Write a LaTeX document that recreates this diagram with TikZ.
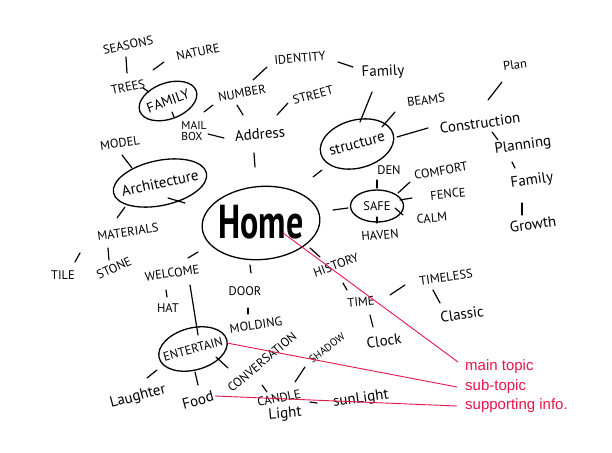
\documentclass[tikz,border=0pt]{standalone}
\usepackage{fontspec}
\usepackage{graphicx}
\usetikzlibrary{shapes.geometric,calc}
\newfontfamily\handfont{PT Sans}
\newfontfamily\labelfont{Liberation Sans}
\definecolor{labred}{RGB}{232,22,74}
\tikzset{
 word/.style={font=\handfont\fontsize{12.5}{13}\selectfont, inner sep=1pt},
 lword/.style={font=\handfont\fontsize{15}{15}\selectfont, inner sep=1pt},
 bubble/.style={draw, ellipse, line width=1.3pt, inner sep=0pt},
 conn/.style={draw, line width=1.2pt, line cap=round},
 redconn/.style={draw=labred, line width=0.9pt},
 redlabel/.style={font=\labelfont\fontsize{15}{16}\selectfont, text=labred, anchor=west, inner sep=0pt},
}
\newcommand{\mmlink}[4]{\draw[conn] ($(#1)+(#2)$) -- ($(#3)+(#4)$);}
\begin{document}
\begin{tikzpicture}[x=1pt,y=-1pt]
\useasboundingbox (0,0) rectangle (612,452);
\fill[white] (0,0) rectangle (612,452);

% ellipses
\node[bubble, minimum width=60, minimum height=36, rotate=20] (family1) at (168,101) {};
\node[bubble, minimum width=75, minimum height=48, rotate=15] (structure) at (357,144) {};
\node[bubble, minimum width=53, minimum height=32] (safe) at (377,206) {};
\node[bubble, minimum width=118, minimum height=73, rotate=5] (home) at (261,223) {};
\node[bubble, minimum width=70, minimum height=42, rotate=15] (entertain) at (193,349) {};
\node[bubble, minimum width=95, minimum height=45, rotate=12] (arch) at (160,183) {};

% ellipse texts
\node[word, rotate=20, font=\handfont\fontsize{14}{14}\selectfont] (family1t) at (168,101) {FAMILY};
\node[lword, rotate=15] (structuret) at (357,144) {structure};
\node[word] (safet) at (377,206) {SAFE};
\node[inner sep=0pt, font=\handfont\bfseries\fontsize{34}{34}\selectfont] (homet) at (261,222) {\scalebox{1.0}[1.4]{Home}};
\node[word, rotate=15] (entertaint) at (193,349) {ENTERTAIN};
\node[lword, rotate=12] (archt) at (160,183) {Architecture};

% words
\node[word, rotate=12] (seasons) at (128,45) {SEASONS};
\node[word, rotate=12] (nature) at (198,52) {NATURE};
\node[word, rotate=12] (trees) at (128,87) {TREES};
\node[word, align=left, font=\handfont\fontsize{11.5}{11.5}\selectfont] (mailbox) at (194,131) {MAIL\\BOX};
\node[word, rotate=10] (number) at (242,93) {NUMBER};
\node[word, rotate=5] (identity) at (300,58) {IDENTITY};
\node[lword, rotate=3] (family2) at (383,72) {Family};
\node[word, rotate=15] (street) at (313,95) {STREET};
\node[lword, rotate=5] (address) at (260,134) {Address};
\node[word, rotate=8] (beams) at (426,100) {BEAMS};
\node[lword, rotate=8] (construction) at (480,123) {Construction};
\node[word, rotate=8] (plan) at (515,65) {Plan};
\node[lword, rotate=8] (planning) at (523,146) {Planning};
\node[lword, rotate=8] (family3) at (532,181) {Family};
\node[lword, rotate=8] (growth) at (533,224) {Growth};
\node[word] (den) at (389,170) {DEN};
\node[word, rotate=10] (comfort) at (441,171) {COMFORT};
\node[word, rotate=6] (fence) at (448,194) {FENCE};
\node[word, rotate=5] (calm) at (432,218) {CALM};
\node[word, rotate=5] (haven) at (380,235) {HAVEN};
\node[word, rotate=20] (history) at (336,265) {HISTORY};
\node[word, rotate=5] (time) at (361,302) {TIME};
\node[word, rotate=8] (timeless) at (446,277) {TIMELESS};
\node[lword, rotate=8] (classic) at (462,314) {Classic};
\node[lword, rotate=8] (clock) at (384,341) {Clock};
\node[word] (door) at (245,291) {DOOR};
\node[word, rotate=8] (molding) at (256,325) {MOLDING};
\node[word, rotate=8] (welcome) at (172,273) {WELCOME};
\node[word] (hat) at (168,308) {HAT};
\node[lword, rotate=15] (laughter) at (138,397) {Laughter};
\node[lword, rotate=15] (food) at (198,400) {Food};
\node[word, rotate=40] (conversation) at (262,362) {CONVERSATION};
\node[word, rotate=37, font=\handfont\fontsize{10.5}{11}\selectfont] (shadow) at (327,348) {SHADOW};
\node[word, rotate=12] (candle) at (279,398) {CANDLE};
\node[lword, rotate=5] (light) at (285,414) {Light};
\node[lword, rotate=8] (sunlight) at (361,399) {sunLight};
\node[word, rotate=8] (model) at (120,143) {MODEL};
\node[word, rotate=8] (materials) at (128,232) {MATERIALS};
\node[word] (tile) at (63,275) {TILE};
\node[word, rotate=25] (stone) at (114,268) {STONE};

% connectors
\mmlink{seasons}{-2,12}{trees}{-1,-14}
\mmlink{trees}{25,-17}{nature}{-34,10}
\mmlink{trees}{15,1}{family1}{-19,-9}
\mmlink{family1}{4,11}{mailbox}{-20,-14}
\mmlink{number}{-29,12}{mailbox}{10,-19}
\mmlink{mailbox}{14,3}{address}{-36,4}
\mmlink{number}{-5,12}{address}{-17,-19}
\mmlink{number}{11,-13}{identity}{-33,9}
\mmlink{identity}{38,4}{family2}{-30,-5}
\mmlink{street}{-25,8}{address}{17,-19}
\mmlink{address}{-6,19}{home}{-6,-56}
\mmlink{family2}{-11,20}{structure}{3,-22}
\mmlink{beams}{-31,12}{structure}{25,-17}
\mmlink{structure}{40,-7}{construction}{-52,5}
\mmlink{plan}{-13,17}{construction}{8,-23}
\mmlink{construction}{12,9}{planning}{-25,-6}
\mmlink{planning}{-11,16}{family3}{-17,-13}
\mmlink{family3}{-10,22}{growth}{-11,-9}
\mmlink{safe}{0,-18}{den}{-12,10}
\mmlink{safe}{21,-13}{comfort}{-31,11}
\mmlink{safe}{23,-6}{fence}{-36,4}
\mmlink{safe}{18,2}{calm}{-29,-3}
\mmlink{safe}{0,11}{haven}{-3,-12}
\mmlink{home}{72,-13}{safe}{-29,2}
\mmlink{home}{52,-46}{structure}{-35,26}
\mmlink{home}{49,25}{history}{-16,-8}
\mmlink{history}{7,18}{time}{-14,-12}
\mmlink{time}{29,-7}{timeless}{-41,8}
\mmlink{timeless}{-13,13}{classic}{-22,-11}
\mmlink{time}{9,13}{clock}{-11,-14}
\mmlink{home}{-11,42}{door}{6,-18}
\mmlink{door}{3,17}{molding}{-8,-11}
\mmlink{home}{-63,29}{welcome}{16,-15}
\mmlink{welcome}{-6,17}{hat}{-1,-11}
\mmlink{welcome}{18,12}{entertain}{5,-14}
\mmlink{entertain}{-36,21}{laughter}{9,-19}
\mmlink{entertain}{2,23}{food}{0,-15}
\mmlink{entertain}{23,8}{conversation}{-34,6}
\mmlink{shadow}{-22,19}{candle}{16,-16}
\mmlink{conversation}{0,23}{candle}{-12,-6}
\mmlink{candle}{31,4}{sunlight}{-44,4}
\mmlink{model}{2,12}{arch}{-28,-15}
\mmlink{arch}{8,15}{home}{-76,-20}
\mmlink{arch}{-35,24}{materials}{-11,-14}
\mmlink{materials}{-48,21}{tile}{12,-13}
\mmlink{materials}{-20,16}{stone}{-5,-8}

% legend
\node[redlabel] (mainlab) at (465,367) {main topic};
\node[redlabel] (sublab) at (465,387) {sub-topic};
\node[redlabel] (suplab) at (465,406) {supporting info.};
\draw[redconn] ($(home)+(22,10)$) -- ($(mainlab.west)+(-7,-5)$);
\draw[redconn] ($(entertain)+(34,-6)$) -- ($(sublab.west)+(-8,0)$);
\draw[redconn] ($(food)+(17,-4)$) -- ($(suplab.west)+(-8,0)$);
\end{tikzpicture}
\end{document}
